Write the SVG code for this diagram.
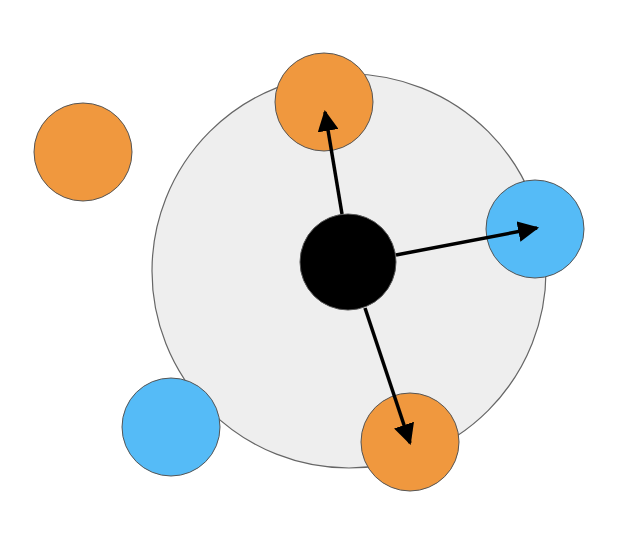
<svg xmlns="http://www.w3.org/2000/svg" width="626" height="550" viewBox="0 0 626 550">
<defs>
<style>
.o{fill:#f0983e;stroke:#555;stroke-width:1}
.b{fill:#55bbf7;stroke:#555;stroke-width:1}
.c{stroke:#000;stroke-width:3.5;fill:none;marker-end:url(#a)}
</style>
<marker id="a" viewBox="0 0 10 10" refX="9" refY="5" markerWidth="6" markerHeight="6" markerUnits="strokeWidth" orient="auto"><path d="M0,0L10,5L0,10z" fill="#000"/></marker>
</defs>
<rect width="626" height="550" fill="#fff"/>
<g id="area"><circle cx="349" cy="271" r="197" fill="#eee" stroke="#666" stroke-width="1.2"/></g>
<g id="n1"><circle class="o" cx="324" cy="102" r="49"/></g>
<g id="n2"><circle class="o" cx="83" cy="152" r="49"/></g>
<g id="n3"><circle class="b" cx="535" cy="229" r="49"/></g>
<g id="n4"><circle class="b" cx="171" cy="427" r="49"/></g>
<g id="n5"><circle class="o" cx="410" cy="442" r="49"/></g>
<g id="center"><circle cx="348" cy="262" r="48" fill="#000" stroke="#555"/></g>
<g id="connectors">
<line class="c" x1="342" y1="214" x2="325" y2="112"/>
<line class="c" x1="396" y1="255" x2="537" y2="228"/>
<line class="c" x1="365" y1="308" x2="410" y2="443"/>
</g>
</svg>
